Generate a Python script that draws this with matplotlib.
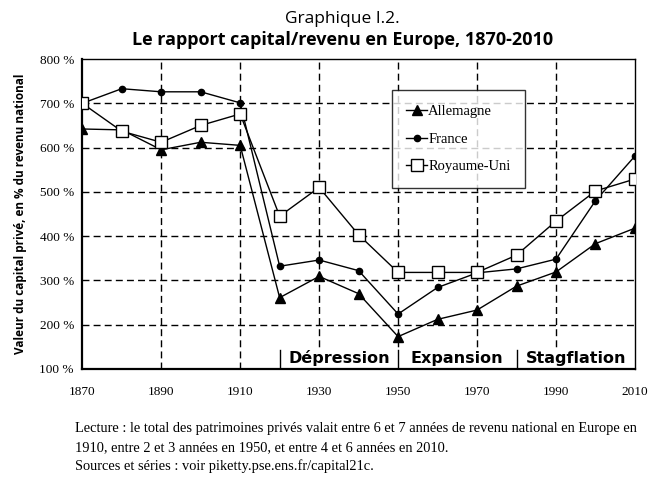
import matplotlib
matplotlib.use("Agg")
import matplotlib.pyplot as plt

# ---------------------------------------------------------------
# Capital/income ratio in Europe, 1870-2010 (% of national income)
# ---------------------------------------------------------------
years = [1870, 1880, 1890, 1900, 1910, 1920, 1930, 1940,
         1950, 1960, 1970, 1980, 1990, 2000, 2010]

allemagne = [642, 640, 595, 612, 605, 261, 309, 270,
             173, 212, 233, 287, 319, 383, 418]
france = [700, 733, 726, 726, 701, 332, 346, 322,
          224, 284, 317, 326, 348, 480, 581]
royaume_uni = [700, 637, 612, 650, 676, 445, 510, 403,
               318, 318, 318, 357, 434, 502, 529]

periods = ["Dépression", "Expansion", "Stagflation"]
period_starts = [1920, 1950, 1980]
period_ends = [1950, 1980, 2010]

x_ticks = list(range(1870, 2011, 20))
y_ticks = list(range(100, 801, 100))

serif = "Liberation Serif"
sans = "Open Sans"

fig = plt.figure(figsize=(6.58, 4.88), dpi=100)
ax = fig.add_axes([0.125, 0.244, 0.840, 0.635])

# grid: dashed black lines
for yv in y_ticks[1:-1]:
    ax.axhline(yv, color="black", linestyle=(0, (5, 3)), linewidth=1.0, zorder=1)
for xv in x_ticks[1:-1]:
    ax.axvline(xv, color="black", linestyle=(0, (5, 3)), linewidth=1.0, zorder=1)

# white strip for the period labels
ax.fill_between([period_starts[0], period_ends[-1]], 100, 143,
                color="white", zorder=2)

ax.plot(years, allemagne, color="black", linewidth=1, marker="^",
        markersize=7, label="Allemagne", zorder=4)
ax.plot(years, france, color="black", linewidth=1, marker="o",
        markersize=4.5, label="France", zorder=4)
ax.plot(years, royaume_uni, color="black", linewidth=1, marker="s",
        markersize=8, markerfacecolor="white", markeredgewidth=1,
        label="Royaume-Uni", zorder=5)

# period labels, centred between the separators
for name, start, end in zip(periods, period_starts, period_ends):
    ax.plot([start, start], [100, 143], color="black", linewidth=1.0, zorder=3)
    ax.text((start + end) / 2, 124, name, fontsize=11.5, fontweight="bold",
            family="DejaVu Sans", ha="center", va="center", zorder=3)

ax.set_xlim(1870, 2010)
ax.set_ylim(100, 800)
ax.set_xticks(x_ticks)
ax.set_yticks(y_ticks)
ax.set_yticklabels([f"{v} %" for v in y_ticks])
ax.tick_params(length=0, labelsize=9.5, pad=6)
ax.tick_params(axis="x", pad=12)
for lab in ax.get_xticklabels() + ax.get_yticklabels():
    lab.set_family(serif)

for side in ["left", "bottom"]:
    ax.spines[side].set_linewidth(1.6)
for side in ["top", "right"]:
    ax.spines[side].set_linewidth(1.0)

ax.set_ylabel("Valeur du capital privé, en % du revenu national",
              fontsize=8.5, fontweight="bold", family=sans, labelpad=9)

leg = ax.legend(loc="upper left", bbox_to_anchor=(0.56, 0.9),
                prop={"family": serif, "size": 10.5}, frameon=True,
                fancybox=False, edgecolor="black", handlelength=1.4,
                handletextpad=0.1, labelspacing=1.0, borderpad=1.0,
                borderaxespad=0)
leg.get_frame().set_linewidth(1.0)
leg.set_zorder(6)

fig.text(0.52, 0.962, "Graphique I.2.", ha="center", va="center",
         fontsize=12.5, family=sans)
fig.text(0.52, 0.918, "Le rapport capital/revenu en Europe, 1870-2010",
         ha="center", va="center", fontsize=13, fontweight="bold", family=sans)

notes = ["Lecture : le total des patrimoines privés valait entre 6 et 7 années de revenu national en Europe en",
         "1910, entre 2 et 3 années en 1950, et entre 4 et 6 années en 2010.",
         "Sources et séries : voir piketty.pse.ens.fr/capital21c."]
for i, line in enumerate(notes):
    fig.text(0.114, 0.122 - i * 0.039, line, ha="left", va="center",
             fontsize=10.4, family=serif)

fig.savefig("out.png", dpi=100)
